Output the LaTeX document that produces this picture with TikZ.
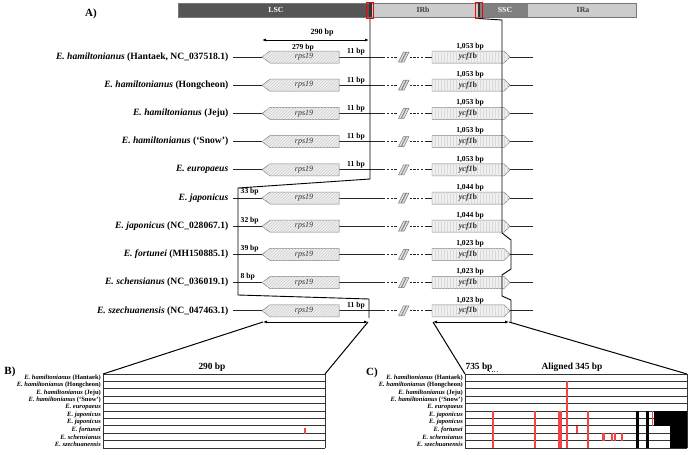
\documentclass[tikz,border=0pt]{standalone}
\usepackage{fontspec}
\setmainfont{Liberation Serif}
\usetikzlibrary{arrows.meta,patterns}
\definecolor{lscC}{RGB}{85,85,85}
\definecolor{irC}{RGB}{204,204,204}
\definecolor{sscC}{RGB}{128,128,128}
\definecolor{edgeC}{RGB}{120,120,120}
\definecolor{geneC}{RGB}{240,240,240}
\definecolor{markC}{RGB}{242,70,70}
\tikzset{
  splbl/.style={font=\fontsize{9.6}{10}\selectfont\bfseries, inner sep=0pt},
  bplbl/.style={font=\fontsize{7.6}{8}\selectfont\bfseries, inner sep=0pt},
  genelbl/.style={text=black!80, inner sep=0pt},
  genebox/.style={draw=edgeC, line width=0.5pt, fill=geneC},
  rowline/.style={line width=0.8pt, draw=black!85},
  juncline/.style={line width=0.9pt, draw=black},
  dimarrow/.style={{Latex[length=4pt,width=3pt]}-{Latex[length=4pt,width=3pt]}, line width=1pt},
  fanline/.style={line width=1pt},
  barlbl/.style={font=\fontsize{7.8}{8}\selectfont\bfseries, inner sep=0pt},
  panlbl/.style={font=\fontsize{11}{12}\selectfont\bfseries, inner sep=0pt},
  biglbl/.style={font=\fontsize{9.4}{10}\selectfont\bfseries, inner sep=0pt},
  smalllbl/.style={font=\fontsize{6.5}{6.6}\selectfont\bfseries, inner sep=0pt, anchor=east},
  gridline/.style={line width=0.8pt, draw=black!80},
  redmark/.style={fill=markC},
}
\begin{document}
\begin{tikzpicture}[x=1pt,y=-1pt]
\useasboundingbox (0,0) rectangle (691,455);

% ---- top bar ----
\fill[lscC] (178,3) rectangle (370,17);
\fill[irC] (370,3) rectangle (479,17);
\fill[sscC] (479,3) rectangle (528,17);
\fill[irC] (528,3) rectangle (636,17);
\draw[edgeC, line width=0.5pt] (178,3) rectangle (636,17);
\node[barlbl, text=white] (lsc) at (276,10) {LSC};
\node[barlbl, text=black!75] (irb) at (423,10) {IRb};
\node[barlbl, text=white] (ssc) at (505,10) {SSC};
\node[barlbl, text=black!75] (ira) at (583,10) {IRa};
\fill[black!80] (369,3) rectangle (371.5,17);
\fill[black!80] (477.5,3) rectangle (480,17);
\node[draw=red, line width=1pt, minimum width=7pt, minimum height=16pt, inner sep=0pt] (jlb) at (370,10) {};
\node[draw=red, line width=1pt, minimum width=7pt, minimum height=16pt, inner sep=0pt] (jsb) at (478.5,10) {};

\node[panlbl] (pa) at (91,14) {A)};

% ---- dimension arrows on top ----
\coordinate (t290l) at (262,40);
\coordinate (t290r) at (369,40);
\draw[dimarrow] (t290l) -- (t290r);
\node[bplbl, font=\fontsize{8}{9}\selectfont\bfseries] (l290) at (322,33) {290 bp};
\node[bplbl] (l279) at (303,48) {279 bp};

% ---- rows ----
\foreach \i/\nm/\yb in {
 1/{\textit{E. hamiltonianus} (Hantaek, NC\_037518.1)}/{1,053},
 2/{\textit{E. hamiltonianus} (Hongcheon)}/{1,053},
 3/{\textit{E. hamiltonianus} (Jeju)}/{1,053},
 4/{\textit{E. hamiltonianus} (`Snow')}/{1,053},
 5/{\textit{E. europaeus}}/{1,053},
 6/{\textit{E. japonicus}}/{1,044},
 7/{\textit{E. japonicus} (NC\_028067.1)}/{1,044},
 8/{\textit{E. fortunei} (MH150885.1)}/{1,023},
 9/{\textit{E. schensianus} (NC\_036019.1)}/{1,023},
 10/{\textit{E. szechuanensis} (NC\_047463.1)}/{1,023}}{
  \pgfmathsetmacro\y{57+28.2*(\i-1)}
  \node[splbl, anchor=east] (sp\i) at (228.5,\y) {\nm};
  \coordinate (a\i) at (233,\y);
  \coordinate (rt\i) at (262,\y);
  \coordinate (rr\i) at (339,\y);
  \coordinate (ds\i) at (383,\y);
  \coordinate (de\i) at (425,\y);
  \coordinate (yl\i) at (432,\y);
  \coordinate (yt\i) at (510,\y);
  \coordinate (e\i) at (533,\y);
  \draw[rowline] (a\i) -- (rt\i);
  \draw[rowline] (rr\i) -- (ds\i);
  \draw[rowline, dash pattern=on 2.2pt off 1.6pt] (ds\i) -- (de\i);
  \draw[rowline] (de\i) -- (yl\i);
  \draw[rowline] (yt\i) -- (e\i);
  \draw[genebox, postaction={pattern=north east lines, pattern color=gray!40}]
     (rt\i) -- (270,\y-6) -- (339,\y-6) -- (339,\y+6) -- (270,\y+6) -- cycle;
  \node[genelbl, font=\fontsize{8}{8}\selectfont\itshape] (rps\i) at (304,\y) {rps19};
  \draw[genebox, postaction={pattern=vertical lines, pattern color=gray!30}]
     (yl\i) -- (432,\y-6) -- (504,\y-6) -- (yt\i) -- (504,\y+6) -- (432,\y+6) -- cycle;
  \node[genelbl, font=\fontsize{8}{8}\selectfont\bfseries] (ycf\i) at (468,\y) {\textit{ycf1}b};
  \node[bplbl] (yb\i) at (470,\y-10.5) {\yb\ bp};
  % break symbol
  \fill[white] (398,\y-6) rectangle (409,\y+6);
  \draw[edgeC, line width=0.5pt, fill=gray!25] (398.5,\y+5) -- (401,\y+5) -- (406,\y-5) -- (403.5,\y-5) -- cycle;
  \draw[edgeC, line width=0.5pt, fill=gray!25] (401.5,\y+5) -- (404,\y+5) -- (409,\y-5) -- (406.5,\y-5) -- cycle;
}

% junction bp labels
\foreach \i in {1,2,3,4,5,10}{
  \pgfmathsetmacro\y{57+28.2*(\i-1)}
  \node[bplbl] (jb\i) at (356,\y-5) {11 bp};
}
\foreach \i/\t in {6/33 bp,7/32 bp,8/39 bp,9/8 bp}{
  \pgfmathsetmacro\y{57+28.2*(\i-1)}
  \node[bplbl, anchor=west] (jb\i) at (240.5,\y-6) {\t};
}

% ---- junction lines ----
\draw[juncline] (jlb.south) -- (370,179) -- (238,188) -- (238,295) -- (369,299) -- (369,318);
\draw[juncline] (jsb.south) -- (502,20) -- (502,233) -- (511,240) -- (511,269) -- (502,275) -- (502,296) -- (511,300) -- (511,323);

% ---- bottom arrows ----
\coordinate (bl) at (263,322);
\coordinate (br) at (368,322);
\coordinate (cl) at (433,322);
\coordinate (cr) at (509,322);
\draw[dimarrow] (bl) -- (br);
\draw[dimarrow] (cl) -- (cr);

% ---- panel B ----
\coordinate (Btl) at (103,374);
\coordinate (Btr) at (325,374);
\draw[fanline] (bl) -- (Btl);
\draw[fanline] (br) -- (Btr);
\node[panlbl] (pb) at (10,372) {B)};
\node[biglbl] (b290) at (212,367) {290 bp};
\foreach \k in {0,...,10}{
  \draw[gridline] (103,374+7.4*\k) -- (325,374+7.4*\k);
}
\draw[gridline] (103,374) -- (103,448);
\draw[gridline] (325,374) -- (325,448);
\fill[redmark] (304.4,427.5) rectangle (305.9,433.5);

% ---- panel C ----
\coordinate (Ctl) at (465,374);
\coordinate (Ctr) at (687,374);
\draw[fanline] (cl) -- (Ctl);
\draw[fanline] (cr) -- (Ctr);
\node[panlbl] (pc) at (372,373) {C)};
\node[biglbl] (c735) at (479,367) {735 bp};
\node[biglbl] (c345) at (572,367) {Aligned 345 bp};
\draw[black!70, dotted, line width=0.6pt] (489,371.5) -- (497,371.5);
\foreach \k in {0,...,10}{
  \draw[gridline] (465,374+7.4*\k) -- (687,374+7.4*\k);
}
\draw[gridline] (465,374) -- (465,448);
\draw[gridline] (687,374) -- (687,448);
% red marks
\fill[redmark] (566.3,381.4) rectangle (567.8,448);
\foreach \x in {493,535,559,561,588}{
  \fill[redmark] (\x-0.7,411) rectangle (\x+0.8,448);
}
\fill[redmark] (576.3,426) rectangle (577.8,433.4);
\foreach \x in {603,604.8,612,615,622}{
  \fill[redmark] (\x-0.6,433.4) rectangle (\x+0.6,440.8);
}
\fill[redmark] (651.8,411) rectangle (653.2,426);
% black blocks
\fill[black] (636,411) rectangle (639,448);
\fill[black] (646,411) rectangle (649,448);
\fill[black] (654,411) rectangle (687,426);
\fill[black] (670,426) rectangle (687,448);

% labels B and C
\foreach \k/\t in {
 1/{\textit{E. hamiltonianus} (Hantaek)},
 2/{\textit{E. hamiltonianus} (Hongcheon)},
 3/{\textit{E. hamiltonianus} (Jeju)},
 4/{\textit{E. hamiltonianus} (`Snow')},
 5/{\textit{E. europaeus}},
 6/{\textit{E. japonicus}},
 7/{\textit{E. japonicus}},
 8/{\textit{E. fortunei}},
 9/{\textit{E. schensianus}},
 10/{\textit{E. szechuanensis}}}{
  \node[smalllbl] (bl\k) at (101,374+7.4*\k-3.7) {\t};
  \node[smalllbl] (cl\k) at (463,374+7.4*\k-3.7) {\t};
}
\end{tikzpicture}
\end{document}
